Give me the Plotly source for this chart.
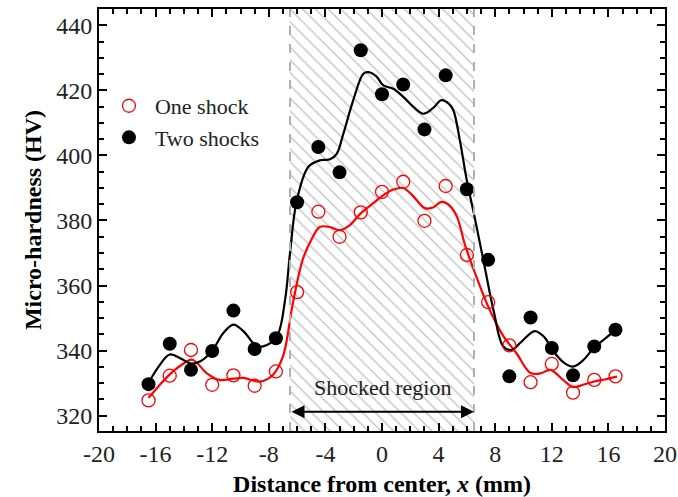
import plotly.graph_objects as go

# ---------------- data ----------------
x_pts = [-16.5, -15, -13.5, -12, -10.5, -9, -7.5, -6, -4.5, -3, -1.5, 0,
         1.5, 3, 4.5, 6, 7.5, 9, 10.5, 12, 13.5, 15, 16.5]
one_shock = [324.7, 332.3, 340.2, 329.5, 332.4, 329.2, 333.6, 358.0, 382.7, 375.0,
             382.5, 388.8, 391.9, 379.9, 390.6, 369.4, 354.9, 341.6, 330.3, 335.9,
             327.1, 331.0, 332.1]
two_shocks = [329.7, 342.1, 334.1, 339.9, 352.3, 340.5, 343.8, 385.6, 402.6, 394.8,
              432.3, 418.8, 421.8, 408.0, 424.6, 389.6, 367.9, 332.1, 350.2, 340.8,
              332.4, 341.3, 346.4]

# fitted curves
one_fit_x = [-16.5, -15.8, -15.0, -14.2, -13.4, -12.4, -11.5, -10.5, -9.8, -8.6, -7.7,
             -7.0, -6.3, -5.6, -5.0, -4.4, -3.7, -3.0, -2.3, -1.5, -0.7, 0.1, 0.8, 1.5,
             2.2, 3.0, 3.6, 4.2, 4.8, 5.3, 5.9, 6.6, 7.4, 8.0, 8.6, 9.5, 10.5, 11.2,
             11.9, 12.8, 13.5, 14.2, 15.0, 15.8, 16.6]
one_fit_y = [325.5, 329.0, 332.7, 335.5, 337.2, 333.1, 331.0, 331.4, 331.6, 330.5, 332.6,
             338.2, 354.6, 368.0, 374.0, 378.0, 378.0, 377.0, 378.5, 382.2, 385.0, 387.8,
             389.5, 390.0, 387.5, 383.8, 384.0, 385.7, 384.5, 381.1, 372.0, 363.5, 354.6,
             349.0, 344.3, 339.2, 333.1, 333.0, 334.1, 331.0, 328.8, 329.5, 330.5, 331.2,
             332.0]

two_fit_x = [-16.5, -15.8, -15.0, -14.2, -13.5, -12.8, -12.0, -11.2, -10.5, -9.8, -8.9,
             -8.4, -7.44, -6.85, -6.5, -6.03, -5.2, -4.38, -3.67, -3.2, -2.73, -2.03,
             -1.32, -0.97, -0.4, 0.09, 0.8, 1.5, 2.2, 2.92, 3.6, 4.2, 4.7, 5.04, 5.5, 5.99,
             6.5, 7.2, 7.9, 8.57, 9.16, 9.8, 10.8, 11.5, 12.0, 12.8, 13.5, 14.2, 15.0,
             15.8, 16.5]
two_fit_y = [330.0, 335.0, 338.8, 337.5, 336.0, 336.8, 340.0, 345.5, 348.0, 346.0, 341.5,
             341.3, 344.3, 355.6, 370.0, 386.0, 396.5, 398.5, 398.8, 400.5, 406.7, 417.0,
             425.1, 425.6, 424.3, 421.5, 420.5, 418.0, 415.0, 412.8, 414.5, 417.0, 416.0,
             413.9, 404.7, 392.4, 382.0, 367.0, 352.0, 341.3, 340.2, 342.5, 346.0, 344.0,
             340.5, 336.5, 335.1, 337.0, 341.0, 343.8, 346.4]

shocked_region = [-6.5, 6.5]
x_range = [-20, 20]
y_range = [315.3, 445.0]
x_ticks = [-20, -16, -12, -8, -4, 0, 4, 8, 12, 16, 20]
y_ticks = [320, 340, 360, 380, 400, 420, 440]
arrow_y = 321.2
label_y = 328.7

FONT = "Liberation Serif"

fig = go.Figure()

# hatched shocked region
fig.add_trace(go.Scatter(
    x=[shocked_region[0], shocked_region[1], shocked_region[1], shocked_region[0], shocked_region[0]],
    y=[y_range[0], y_range[0], y_range[1], y_range[1], y_range[0]],
    mode="none", fill="toself", fillcolor="rgba(0,0,0,0)",
    fillpattern=dict(shape="\\", fgcolor="#8c8c8c", bgcolor="white", size=9, solidity=0.16),
    showlegend=False, hoverinfo="skip"))

# fitted curves
fig.add_trace(go.Scatter(x=one_fit_x, y=one_fit_y, mode="lines",
                         line=dict(color="#ff0000", width=2.2, shape="spline", smoothing=1.0),
                         showlegend=False))
fig.add_trace(go.Scatter(x=two_fit_x, y=two_fit_y, mode="lines",
                         line=dict(color="black", width=2.2, shape="spline", smoothing=1.0),
                         showlegend=False))

# points
fig.add_trace(go.Scatter(x=x_pts, y=one_shock, mode="markers", name="One shock",
                         marker=dict(symbol="circle-open", size=13, color="#ff0000",
                                     line=dict(width=1.3, color="#ff0000"))))
fig.add_trace(go.Scatter(x=x_pts, y=two_shocks, mode="markers", name="Two shocks",
                         marker=dict(symbol="circle", size=14, color="black")))

# dashed borders of region
for xv in shocked_region:
    fig.add_shape(type="line", x0=xv, x1=xv, y0=y_range[0], y1=y_range[1],
                  xref="x", yref="y", line=dict(color="#b0b0b0", width=2, dash="dash"),
                  layer="above")

# double-headed arrow and label
fig.add_annotation(x=shocked_region[1], y=arrow_y, ax=shocked_region[0], ay=arrow_y,
                   xref="x", yref="y", axref="x", ayref="y", text="",
                   showarrow=True, arrowhead=2, arrowside="end+start", arrowsize=1.3,
                   arrowwidth=2, arrowcolor="black")
fig.add_annotation(x=0, y=label_y, xref="x", yref="y", text="Shocked region",
                   showarrow=False, font=dict(family=FONT, size=22, color="#222"))

axis_common = dict(showline=True, linewidth=2, linecolor="black", mirror="ticks",
                   ticks="inside", ticklen=8, tickwidth=2, tickcolor="black",
                   showgrid=False, zeroline=False, automargin=False,
                   tickfont=dict(family=FONT, size=24, color="#222"))

fig.update_xaxes(range=x_range, tickvals=x_ticks, ticktext=[str(v) for v in x_ticks],
                 minor=dict(tickvals=list(range(-20, 21)), ticks="inside", ticklen=5,
                            tickwidth=1.5, tickcolor="black"),
                 title=dict(text="<b>Distance from center, <i>x</i> (mm)</b>",
                            font=dict(family=FONT, size=24, color="black"), standoff=10),
                 **axis_common)
fig.update_yaxes(range=y_range, tickvals=y_ticks, ticktext=[str(v) for v in y_ticks],
                 minor=dict(tickvals=list(range(320, 445, 5)), ticks="inside", ticklen=5,
                            tickwidth=1.5, tickcolor="black"),
                 title=dict(text="<b>Micro-hardness (HV)</b>",
                            font=dict(family=FONT, size=24, color="black"), standoff=8),
                 **axis_common)

fig.update_layout(
    width=678, height=497,
    margin=dict(l=99, r=13, t=9, b=66),
    plot_bgcolor="white", paper_bgcolor="white",
    font=dict(family=FONT, color="#222"),
    legend=dict(x=0.007, y=0.82, xanchor="left", yanchor="top",
                bgcolor="rgba(0,0,0,0)", font=dict(family=FONT, size=22, color="#222"),
                itemwidth=42, tracegroupgap=0),
)

fig.write_html("out.html")
